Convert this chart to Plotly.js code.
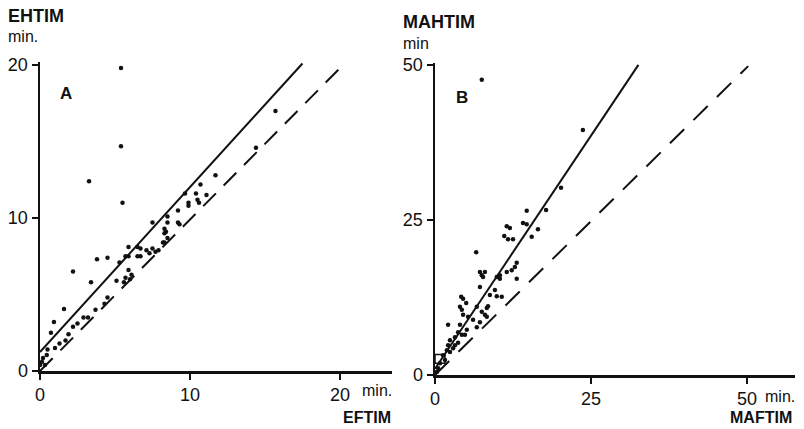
<!DOCTYPE html>
<html>
<head>
<meta charset="utf-8">
<script src="https://cdn.plot.ly/plotly-3.0.1.min.js"></script>
<style>html,body{margin:0;padding:0;background:#fff;}#chart{width:804px;height:429px;}</style>
</head>
<body>
<div id="chart"></div>
<script>
// Panel A: EFTIM (x) vs EHTIM (y), minutes
const eftim = [5.4,5.4,3.27,5.5,15.7,14.4,11.7,10.7,9.67,10.4,11.1,9.9,10.5,9.9,10.6,9.2,8.5,7.5,9.2,8.5,8.3,8.3,8.3,5.9,6.5,6.7,7.1,7.5,7.7,7.9,7.3,6.5,6.7,5.9,3.8,4.5,5.3,5.7,2.2,3.4,5.1,5.6,5.7,1.6,0.93,0.73,4.5,4.3,3.7,3.2,2.9,2.5,2.2,1.9,1.7,1.3,1.0,0.5,0.45,0.2,0.13,0.0,0.33,5.9,6.1,6.0,8.2,8.5,8.4,9.3];
const ehtim = [19.8,14.7,12.4,11.0,17.0,14.6,12.8,12.2,11.6,11.6,11.5,11.0,11.2,10.8,11.0,10.5,10.1,9.7,9.7,9.7,9.3,9.0,8.4,8.1,8.1,8.0,7.9,8.0,7.8,7.9,7.7,7.5,7.5,7.5,7.3,7.4,7.1,7.5,6.5,5.8,5.9,5.8,6.1,4.05,3.2,2.5,4.8,4.4,4.0,3.5,3.5,3.1,2.9,2.4,2.0,1.8,1.5,1.4,1.05,0.85,0.6,0.4,0.4,6.6,6.3,6.0,8.4,8.7,9.1,9.6];
const fitA_x = [0, 17.5];
const fitA_y = [1.24, 20.1];
const idA_x = [0, 20.2];
const idA_y = [0, 20.0];

// Panel B: MAFTIM (x) vs MAHTIM (y), minutes
const maftim = [7.5,23.7,20.2,14.7,17.8,11.5,12.0,14.1,14.7,16.5,15.5,11.1,11.7,12.5,6.6,13.1,12.8,12.3,11.5,10.4,9.9,10.4,8.0,7.5,7.7,13.1,9.6,9.9,10.7,8.8,4.2,4.5,5.0,4.0,4.3,6.7,8.5,8.3,7.5,4.5,5.3,6.1,8.0,8.3,7.2,6.7,4.0,2.1,3.7,4.3,3.2,2.4,2.1,3.2,2.9,1.9,1.3,1.6,0.8,0.5,0.3,2.4,3.7,4.8,5.1,7.2,7.2];
const mahtim = [47.6,39.5,30.2,26.5,26.6,24.0,23.7,24.5,24.3,23.5,22.3,22.4,21.9,21.9,19.8,18.1,17.4,16.9,16.6,16.1,15.8,15.5,16.6,16.1,15.8,15.5,13.7,12.7,12.6,12.9,12.6,12.3,11.6,11.0,10.5,11.0,11.1,10.8,10.2,9.7,9.4,8.9,9.7,9.4,8.5,7.7,8.1,8.1,6.9,6.5,6.1,5.6,4.8,4.8,4.3,4.0,3.2,2.4,1.9,1.1,0.5,3.7,5.2,6.5,7.3,16.6,14.2];
const fitB_x = [0, 32.6];
const fitB_y = [1.0, 50.0];
const idB_x = [0, 50.2];
const idB_y = [0, 49.8];

const ticksA = [0, 10, 20];
const ticksB = [0, 25, 50];

const W = 804, H = 429;
const px = v => v / W;
const py = v => (H - v) / H;

const ink = '#111';
const fam = 'Liberation Sans, Arial, sans-serif';

const traces = [
  {x: eftim, y: ehtim, xaxis: 'x', yaxis: 'y', mode: 'markers', type: 'scatter',
   marker: {size: 4.5, color: ink}},
  {x: fitA_x, y: fitA_y, xaxis: 'x', yaxis: 'y', mode: 'lines', type: 'scatter',
   line: {color: ink, width: 2}},
  {x: idA_x, y: idA_y, xaxis: 'x', yaxis: 'y', mode: 'lines', type: 'scatter',
   line: {color: ink, width: 2, dash: '18px,11px'}},
  {x: maftim, y: mahtim, xaxis: 'x2', yaxis: 'y2', mode: 'markers', type: 'scatter',
   marker: {size: 4.5, color: ink}},
  {x: fitB_x, y: fitB_y, xaxis: 'x2', yaxis: 'y2', mode: 'lines', type: 'scatter',
   line: {color: ink, width: 2}},
  {x: idB_x, y: idB_y, xaxis: 'x2', yaxis: 'y2', mode: 'lines', type: 'scatter',
   line: {color: ink, width: 2, dash: '20px,13px'}}
];

const axBase = {
  showline: true, linecolor: ink, linewidth: 2.5, ticks: 'outside', ticklen: 6,
  tickwidth: 2, tickcolor: ink, showgrid: false, zeroline: false, automargin: false,
  tickfont: {family: fam, size: 18, color: ink}, fixedrange: true
};

const layout = {
  width: W, height: H,
  margin: {l: 0, r: 0, t: 0, b: 0},
  paper_bgcolor: '#fff', plot_bgcolor: '#fff',
  showlegend: false,
  xaxis: Object.assign({}, axBase, {domain: [px(40), px(392)], range: [0, 23.47],
    tickvals: ticksA, ticktext: ticksA.map(String), anchor: 'y'}),
  yaxis: Object.assign({}, axBase, {domain: [py(371), py(62)], range: [0, 20.2],
    tickvals: ticksA, ticktext: ticksA.map(String), anchor: 'x'}),
  xaxis2: Object.assign({}, axBase, {domain: [px(435), px(795)], range: [0, 57.7],
    tickvals: ticksB, ticktext: ticksB.map(String), anchor: 'y2'}),
  yaxis2: Object.assign({}, axBase, {domain: [py(375), py(63)], range: [0, 50.3],
    tickvals: ticksB, ticktext: ticksB.map(String), anchor: 'x2'}),
  shapes: [
    {type: 'rect', xref: 'x2', yref: 'y2', x0: 0, x1: 1.6, y0: 1.9, y1: 3.3,
     line: {color: ink, width: 1.5}}
  ],
  annotations: [
    {text: 'EHTIM', xref: 'paper', yref: 'paper', x: px(6), y: py(15.5), xanchor: 'left', yanchor: 'middle',
     showarrow: false, font: {family: fam, size: 18, color: ink, weight: 'bold'}},
    {text: 'min.', xref: 'paper', yref: 'paper', x: px(6), y: py(36), xanchor: 'left', yanchor: 'middle',
     showarrow: false, font: {family: fam, size: 16, color: ink}},
    {text: 'A', xref: 'paper', yref: 'paper', x: px(66), y: py(93), xanchor: 'center', yanchor: 'middle',
     showarrow: false, font: {family: fam, size: 17, color: ink, weight: 'bold'}},
    {text: 'min.', xref: 'paper', yref: 'paper', x: px(394), y: py(390), xanchor: 'right', yanchor: 'middle',
     showarrow: false, font: {family: fam, size: 16, color: ink}},
    {text: 'EFTIM', xref: 'paper', yref: 'paper', x: px(393), y: py(417), xanchor: 'right', yanchor: 'middle',
     showarrow: false, font: {family: fam, size: 16, color: ink, weight: 'bold'}},
    {text: 'MAHTIM', xref: 'paper', yref: 'paper', x: px(401), y: py(21.5), xanchor: 'left', yanchor: 'middle',
     showarrow: false, font: {family: fam, size: 18, color: ink, weight: 'bold'}},
    {text: 'min', xref: 'paper', yref: 'paper', x: px(401), y: py(44), xanchor: 'left', yanchor: 'middle',
     showarrow: false, font: {family: fam, size: 16, color: ink}},
    {text: 'B', xref: 'paper', yref: 'paper', x: px(462), y: py(97), xanchor: 'center', yanchor: 'middle',
     showarrow: false, font: {family: fam, size: 17, color: ink, weight: 'bold'}},
    {text: 'min.', xref: 'paper', yref: 'paper', x: px(797), y: py(396), xanchor: 'right', yanchor: 'middle',
     showarrow: false, font: {family: fam, size: 16, color: ink}},
    {text: 'MAFTIM', xref: 'paper', yref: 'paper', x: px(794), y: py(417), xanchor: 'right', yanchor: 'middle',
     showarrow: false, font: {family: fam, size: 16, color: ink, weight: 'bold'}}
  ]
};

Plotly.newPlot('chart', traces, layout, {displayModeBar: false, staticPlot: true});
</script>
</body>
</html>
